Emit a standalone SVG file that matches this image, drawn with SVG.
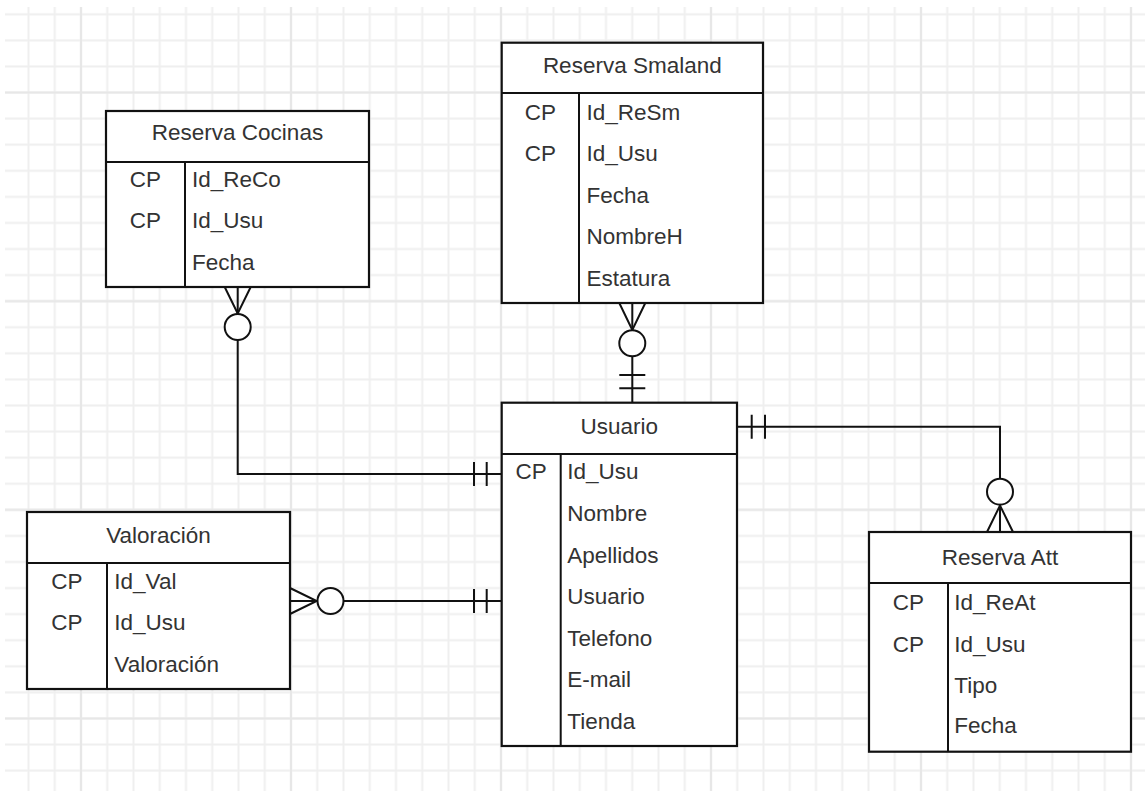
<svg xmlns="http://www.w3.org/2000/svg" width="1145" height="791" viewBox="0 0 1145 791">
<style>
.box{fill:#fff;stroke:#111;stroke-width:2.2}
.ln{fill:none;stroke:#111;stroke-width:2}
.circ{fill:#fff;stroke:#111;stroke-width:2}
.t{font-family:"Liberation Sans",Arial,sans-serif;font-size:22.5px;fill:#333}
.c{text-anchor:middle}
</style>
<defs>
<pattern id="gMinor" patternUnits="userSpaceOnUse" x="-10.875" y="1.26" width="26.25" height="26.08">
<line x1="13.125" y1="0" x2="13.125" y2="26.08" stroke="#efefef" stroke-width="2"/>
<line x1="0" y1="13.04" x2="26.25" y2="13.04" stroke="#efefef" stroke-width="2"/>
</pattern>
<pattern id="gMajor" patternUnits="userSpaceOnUse" x="-24" y="-11.78" width="210" height="208.64">
<line x1="105" y1="0" x2="105" y2="208.64" stroke="#e7e7e7" stroke-width="2"/>
<line x1="0" y1="104.32" x2="210" y2="104.32" stroke="#e7e7e7" stroke-width="2"/>
</pattern>
</defs>
<rect width="1145" height="791" fill="#fff"/>
<g id="grid">
<rect x="5" y="7" width="1140" height="784" fill="url(#gMinor)"/>
<rect x="5" y="7" width="1140" height="784" fill="url(#gMajor)"/>
</g>
<g id="connectors">
<path class="ln" d="M237.7,287 V474 H501.7"/>
<path class="ln" d="M224.7,287 L237.7,313.5 L250.7,287"/>
<circle class="circ" cx="237.7" cy="327" r="13"/>
<path class="ln" d="M474,462 V486 M486.7,462 V486"/>
<path class="ln" d="M632.3,303 V402.7"/>
<path class="ln" d="M619.3,303 L632.3,330 L645.3,303"/>
<circle class="circ" cx="632.3" cy="343.3" r="13"/>
<path class="ln" d="M619.3,375 H645.3 M619.3,388.3 H645.3"/>
<path class="ln" d="M737,426.7 H1000 V532"/>
<path class="ln" d="M751.7,414.7 V438.7 M765,414.7 V438.7"/>
<circle class="circ" cx="1000" cy="491.7" r="13"/>
<path class="ln" d="M987,532 L1000,505.5 L1013,532"/>
<path class="ln" d="M290,601 H501.7"/>
<path class="ln" d="M290,588 L316.7,601 L290,614"/>
<circle class="circ" cx="330.5" cy="601" r="13"/>
<path class="ln" d="M474,589 V613 M486.7,589 V613"/>
</g>
<g id="reserva-cocinas">
<rect class="box" x="106" y="111" width="263" height="176"/>
<path class="ln" d="M106,162 H369 M185,162 V287"/>
<text class="t c" x="237.5" y="140">Reserva Cocinas</text>
<text class="t c" x="145.5" y="187.3">CP</text>
<text class="t c" x="145.5" y="228.3">CP</text>
<text class="t" x="192" y="187.3">Id_ReCo</text>
<text class="t" x="192" y="228.3">Id_Usu</text>
<text class="t" x="192" y="270">Fecha</text>
</g>
<g id="reserva-smaland">
<rect class="box" x="501.7" y="42.7" width="261.3" height="260.3"/>
<path class="ln" d="M501.7,93 H763 M579,93 V303"/>
<text class="t c" x="632.3" y="72.7">Reserva Smaland</text>
<text class="t c" x="540.3" y="120">CP</text>
<text class="t c" x="540.3" y="161">CP</text>
<text class="t" x="586.5" y="120">Id_ReSm</text>
<text class="t" x="586.5" y="161">Id_Usu</text>
<text class="t" x="586.5" y="203">Fecha</text>
<text class="t" x="586.5" y="244.3">NombreH</text>
<text class="t" x="586.5" y="286">Estatura</text>
</g>
<g id="usuario">
<rect class="box" x="501.7" y="402.7" width="235.3" height="343.3"/>
<path class="ln" d="M501.7,454 H737 M560.7,454 V746"/>
<text class="t c" x="619.3" y="434">Usuario</text>
<text class="t c" x="531.2" y="479.3">CP</text>
<text class="t" x="567.3" y="479.3">Id_Usu</text>
<text class="t" x="567.3" y="521">Nombre</text>
<text class="t" x="567.3" y="562.7">Apellidos</text>
<text class="t" x="567.3" y="604">Usuario</text>
<text class="t" x="567.3" y="645.7">Telefono</text>
<text class="t" x="567.3" y="687.3">E-mail</text>
<text class="t" x="567.3" y="729">Tienda</text>
</g>
<g id="valoracion">
<rect class="box" x="27" y="512" width="263" height="177"/>
<path class="ln" d="M27,563 H290 M107,563 V689"/>
<text class="t c" x="158.5" y="542.7">Valoración</text>
<text class="t c" x="67" y="589.3">CP</text>
<text class="t c" x="67" y="630">CP</text>
<text class="t" x="114.3" y="589.3">Id_Val</text>
<text class="t" x="114.3" y="630">Id_Usu</text>
<text class="t" x="114.3" y="671.7">Valoración</text>
</g>
<g id="reserva-att">
<rect class="box" x="869" y="532" width="262" height="219.7"/>
<path class="ln" d="M869,583 H1131 M948,583 V751.7"/>
<text class="t c" x="1000" y="565">Reserva Att</text>
<text class="t c" x="908.5" y="610">CP</text>
<text class="t c" x="908.5" y="651.7">CP</text>
<text class="t" x="954.3" y="610">Id_ReAt</text>
<text class="t" x="954.3" y="651.7">Id_Usu</text>
<text class="t" x="954.3" y="692.7">Tipo</text>
<text class="t" x="954.3" y="733.3">Fecha</text>
</g>
</svg>
